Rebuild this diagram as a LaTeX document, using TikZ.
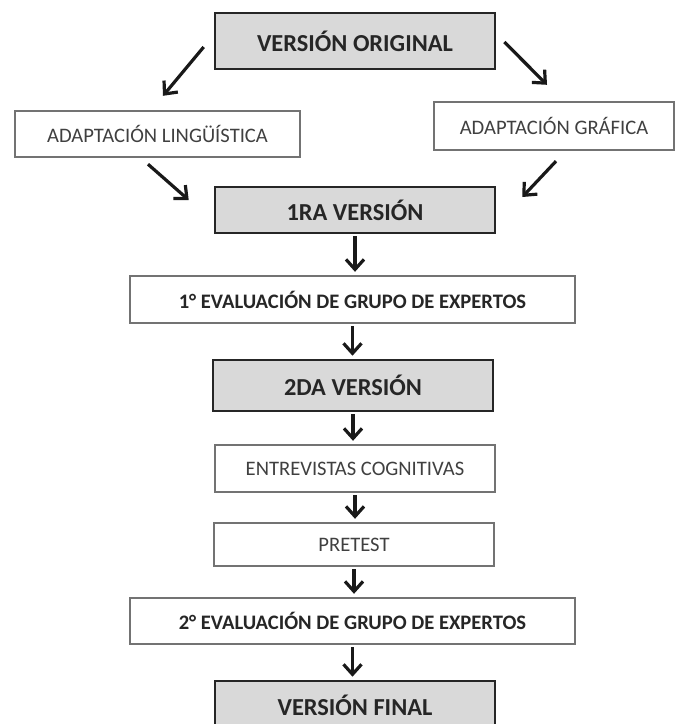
\documentclass[tikz,border=0pt]{standalone}
\usepackage{fontspec}
\setmainfont{Carlito}
\usetikzlibrary{arrows.meta}
\definecolor{boxgray}{RGB}{217,217,217}

\begin{document}
\begin{tikzpicture}[x=0.5pt, y=-0.5pt,
    gbox/.style={draw=black!85, line width=1.3pt, fill=boxgray, inner sep=0pt,
        minimum width=140pt, text=black!85, font=\fontsize{12.2}{14}\selectfont\bfseries},
    wbox/.style={draw=black!55, line width=1.2pt, fill=white, inner sep=0pt,
        text=black!75, font=\fontsize{10.3}{12}\selectfont},
    ebox/.style={wbox, minimum width=222.5pt, text=black!85, font=\fontsize{10.3}{12}\selectfont\bfseries},
    arr/.style={-{Straight Barb[length=5pt,width=9pt]}, line width=1.6pt, black!90}]
    \useasboundingbox (0,0) rectangle (675,724);

    % boxes
    \node[gbox, minimum height=28pt] (vo) at (355,41) {VERSIÓN ORIGINAL};
    \node[wbox, minimum width=142.5pt, minimum height=23pt] (ling) at (157.5,134) {ADAPTACIÓN LINGÜÍSTICA};
    \node[wbox, minimum width=120pt, minimum height=24pt] (graf) at (554,126) {ADAPTACIÓN GRÁFICA};
    \node[gbox, minimum height=23pt] (v1) at (355,210) {1RA VERSIÓN};
    \node[ebox, minimum height=23.5pt] (ev1) at (352.5,299.5) {1° EVALUACIÓN DE GRUPO DE EXPERTOS};
    \node[gbox, minimum height=25.5pt] (v2) at (353,385.5) {2DA VERSIÓN};
    \node[wbox, minimum width=140pt, minimum height=23.5pt] (entr) at (355,468.5) {ENTREVISTAS COGNITIVAS};
    \node[wbox, minimum width=140pt, minimum height=21.5pt] (pre) at (354,544.5) {PRETEST};
    \node[ebox, minimum height=23pt] (ev2) at (352.5,621) {2° EVALUACIÓN DE GRUPO DE EXPERTOS};
    \node[gbox, minimum height=24pt] (vf) at (355,705) {VERSIÓN FINAL};

    % diagonal arrows
    \draw[arr] ([shift={(-10,6)}]vo.west) -- ([shift={(5.5,-14)}]ling.north);
    \draw[arr] ([shift={(8,1)}]vo.east) -- ([shift={(-7,-16)}]graf.north);
    \draw[arr] ([shift={(-9.5,6)}]ling.south) -- ([shift={(-25,-10)}]v1.west);
    \draw[arr] ([shift={(2,10)}]graf.south) -- ([shift={(26,-13)}]v1.east);

    % vertical arrows
    \foreach \a/\b in {v1/ev1, ev1/v2, v2/entr, entr/pre, pre/ev2, ev2/vf}
        \draw[arr, shorten <=1pt, shorten >=1.5pt] (\a.south) -- (\a.south |- \b.north);
\end{tikzpicture}
\end{document}
